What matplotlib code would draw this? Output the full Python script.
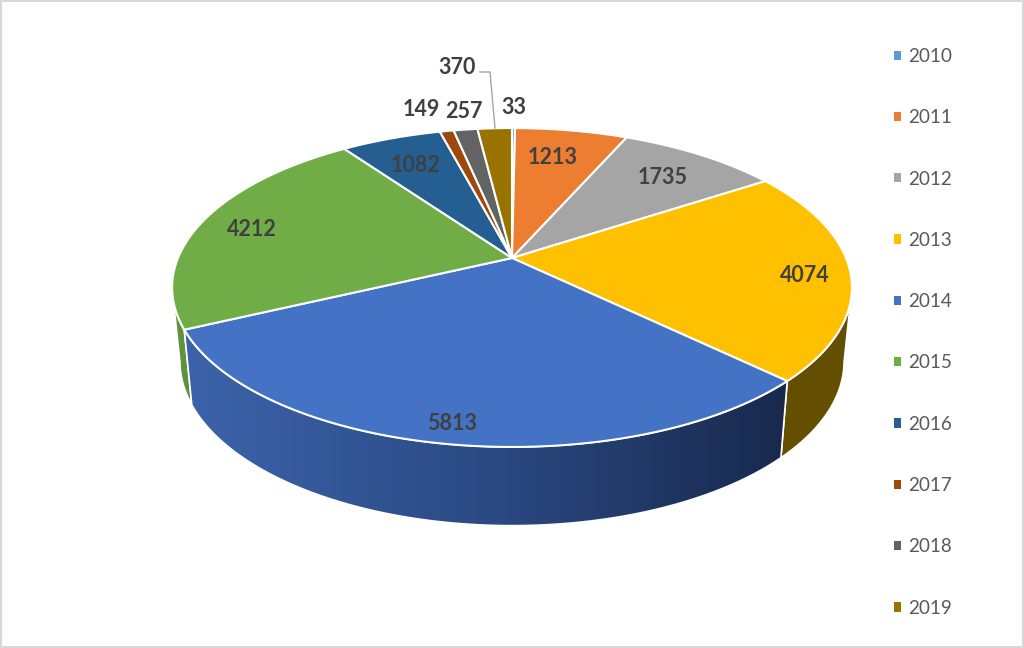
import numpy as np
import matplotlib
matplotlib.use("Agg")
import matplotlib.pyplot as plt
from matplotlib.patches import Polygon, Patch, Rectangle
from matplotlib.colors import LinearSegmentedColormap

plt.rcParams['font.family'] = ['Lato', 'DejaVu Sans']

years = ["2010", "2011", "2012", "2013", "2014", "2015", "2016", "2017", "2018", "2019"]
counts = [33, 1213, 1735, 4074, 5813, 4212, 1082, 149, 257, 370]
colors = ["#5B9BD5", "#ED7D31", "#A5A5A5", "#FFC000", "#4472C4",
          "#70AD47", "#255E91", "#9E480E", "#636363", "#997300"]

# where each number sits, in pixels
label_xy = [(514, 108), (553, 157), (663, 177), (805, 275), (452, 423),
            (252, 229), (416, 165), (421, 109), (464, 111), (457, 68)]

# perspective of the pie disc
cx, cy = 512, 258
A, B, p = 334, 154, 0.185


def top_rim(theta):
    # theta in degrees clockwise from the back of the pie
    t = np.radians(theta)
    d = 1 + p * np.cos(t)
    return cx + A * np.sin(t) / d, cy - B * np.cos(t) / d


def bottom_rim(theta):
    x, y = top_rim(theta)
    return cx + 0.977 * (x - cx), 331 + 1.03 * (y - cy)


def wall(ax, t0, t1, color=None, cmap=None):
    th = np.linspace(t0, t1, 200)
    xt, yt = top_rim(th)
    xb, yb = bottom_rim(th)
    pts = np.r_[np.c_[xt, yt], np.c_[xb, yb][::-1]]
    if cmap is None:
        ax.add_patch(Polygon(pts, closed=True, fc=color, ec="white", lw=1.2, zorder=2))
        return
    poly = Polygon(pts, closed=True, fc="none", ec="white", lw=1.2, zorder=3)
    ax.add_patch(poly)
    im = ax.imshow(np.linspace(0, 1, 256)[None, :], cmap=cmap, aspect="auto", zorder=2,
                   extent=(pts[:, 0].min(), pts[:, 0].max(), pts[:, 1].max(), pts[:, 1].min()))
    im.set_clip_path(poly)


fig = plt.figure(figsize=(10.24, 6.48), dpi=100)
ax = fig.add_axes([0, 0, 1, 1])

edges = np.r_[0, np.cumsum(counts)] / np.sum(counts) * 360

# side walls first, only the ones facing us
blue_side = LinearSegmentedColormap.from_list("blue_side", ["#3C63AA", "#2B4A84", "#18294C"])
wall(ax, 101, edges[4], color="#644E00")
wall(ax, edges[5], 259, color="#5F9339")
wall(ax, edges[4], edges[5], cmap=blue_side)

# top of the disc
for i, c in enumerate(colors):
    th = np.linspace(edges[i], edges[i + 1], 120)
    x, y = top_rim(th)
    pts = np.r_[[(cx, cy)], np.c_[x, y]]
    ax.add_patch(Polygon(pts, closed=True, fc=c, ec="white", lw=1.5, zorder=4))

for (x, y), v in zip(label_xy, counts):
    ax.text(x, y, str(v), ha="center", va="center", fontsize=15.5, fontweight="bold",
            color="#404040", zorder=6)

# leader line of the 2019 label
ax.plot([480, 490, 495], [72, 72, 128], color="#A6A6A6", lw=1, zorder=5)

handles = [Patch(fc=c, ec="none", label=y) for c, y in zip(colors, years)]
ax.legend(handles=handles, loc="upper left", bbox_to_anchor=(893.5 / 1024, 1 - 48 / 648),
          frameon=False, fontsize=13.6, labelcolor="#595959", labelspacing=2.345,
          handlelength=0.38, handleheight=0.38, handletextpad=0.42, borderpad=0, borderaxespad=0)

ax.add_patch(Rectangle((0.5, 0.5), 1022.5, 646.5, fc="none", ec="#D9D9D9", lw=1.5, zorder=7))

ax.set_xlim(0, 1024)
ax.set_ylim(648, 0)
ax.axis("off")
fig.savefig("out.png", dpi=100, facecolor="white")
